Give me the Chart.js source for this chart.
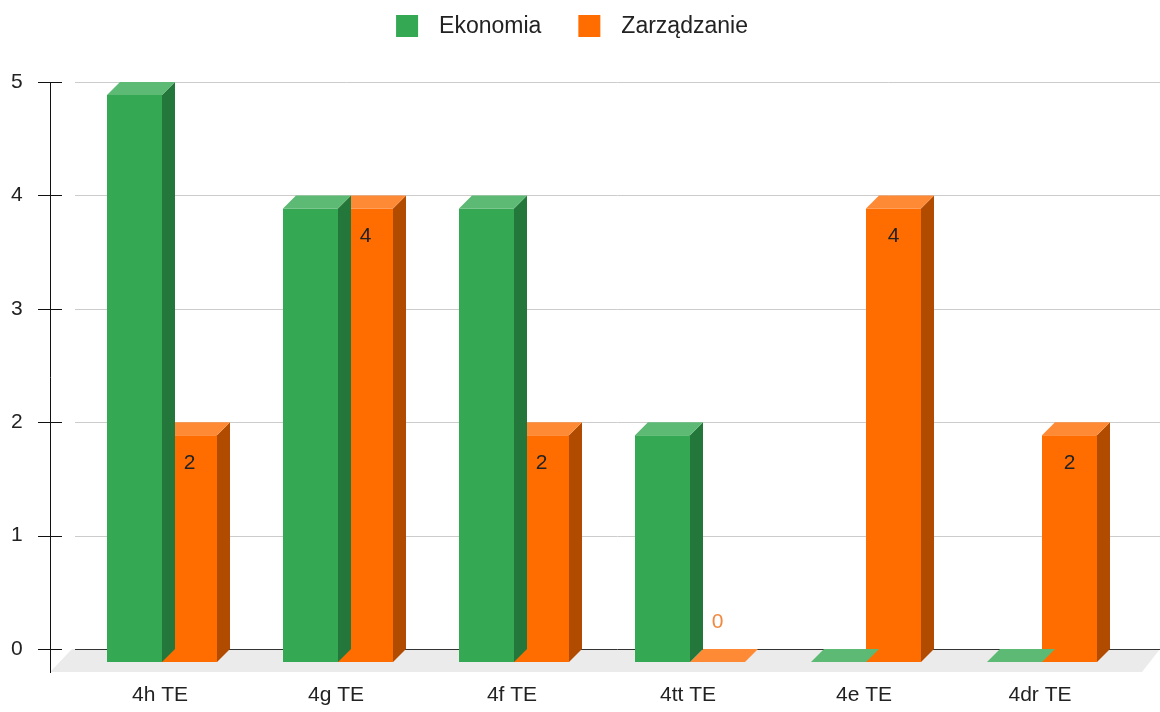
<!DOCTYPE html>
<html><head><meta charset="utf-8">
<script src="https://cdn.jsdelivr.net/npm/chart.js@4.4.1/dist/chart.umd.min.js"></script>
<style>html,body{margin:0;padding:0;background:#fff}#wrap{width:1160px;height:712px}</style>
</head><body><div id="wrap"><canvas id="c" width="1160" height="712"></canvas></div>
<script>
const categories = ['4h TE', '4g TE', '4f TE', '4tt TE', '4e TE', '4dr TE'];
const ekonomia = [5, 4, 4, 2, 0, 0];
const zarzadzanie = [2, 4, 2, 0, 4, 2];
const seriesNames = ['Ekonomia', 'Zarządzanie'];
const yTicks = [0, 1, 2, 3, 4, 5];

const FONT = '"Liberation Sans", Arial, sans-serif';
const D = 13;
const faceColors = [
  {front: '#34a853', side: '#23773a', top: '#5cba74'},
  {front: '#ff6d01', side: '#b04b00', top: '#ff8a36'}
];

const threeD = {
  id: 'threeD',
  beforeDatasetsDraw(chart) {
    const {ctx, chartArea: a, scales: {y}} = chart;
    const y0 = y.getPixelForValue(0);
    const gl = a.left - 12, gr = chart.width, axisX = a.left - 37;
    ctx.save();
    ctx.fillStyle = '#ebebeb';
    ctx.beginPath();
    ctx.moveTo(gl - 3, y0); ctx.lineTo(gr, y0); ctx.lineTo(gr - 18, y0 + 23); ctx.lineTo(axisX, y0 + 23);
    ctx.closePath(); ctx.fill();
    ctx.lineWidth = 1;
    yTicks.forEach(t => {
      const py = Math.round(y.getPixelForValue(t)) + 0.5;
      ctx.strokeStyle = t === 0 ? '#333' : '#cccccc';
      ctx.beginPath(); ctx.moveTo(gl, py); ctx.lineTo(gr, py); ctx.stroke();
      ctx.strokeStyle = '#111';
      ctx.beginPath(); ctx.moveTo(axisX - 12, py); ctx.lineTo(axisX + 12, py); ctx.stroke();
    });
    ctx.strokeStyle = '#111';
    ctx.beginPath();
    ctx.moveTo(axisX + 0.5, Math.round(y.getPixelForValue(yTicks[yTicks.length - 1])));
    ctx.lineTo(axisX + 0.5, y0 + 24);
    ctx.stroke();
    ctx.restore();
  },
  beforeDatasetDraw(chart) {
    chart.ctx.save();
    chart.ctx.translate(-D, D);
  },
  afterDatasetDraw(chart, args) {
    const ctx = chart.ctx;
    const c = faceColors[args.index];
    args.meta.data.forEach(el => {
      const {x, y, base, width} = el.getProps(['x', 'y', 'base', 'width'], true);
      const l = x - width / 2, r = x + width / 2;
      ctx.fillStyle = c.side;
      ctx.beginPath();
      ctx.moveTo(r, y); ctx.lineTo(r + D, y - D); ctx.lineTo(r + D, base - D); ctx.lineTo(r, base);
      ctx.closePath(); ctx.fill();
      ctx.fillStyle = c.top;
      ctx.beginPath();
      ctx.moveTo(l, y); ctx.lineTo(l + D, y - D); ctx.lineTo(r + D, y - D); ctx.lineTo(r, y);
      ctx.closePath(); ctx.fill();
    });
    ctx.restore();
  },
  afterDatasetsDraw(chart) {
    const ctx = chart.ctx;
    const meta = chart.getDatasetMeta(1);
    const vals = chart.data.datasets[1].data;
    ctx.save();
    ctx.font = '21px ' + FONT;
    ctx.textAlign = 'center';
    ctx.textBaseline = 'middle';
    meta.data.forEach((el, i) => {
      const fx = el.x - D, fy = el.y + D;
      if (vals[i] > 0) {
        ctx.fillStyle = '#222';
        ctx.fillText(String(vals[i]), fx, fy + 28);
      } else {
        ctx.fillStyle = '#f08a40';
        ctx.fillText(String(vals[i]), fx, fy - 40);
      }
    });
    ctx.restore();
  },
  afterDraw(chart) {
    const ctx = chart.ctx;
    ctx.save();
    ctx.font = '23px ' + FONT;
    ctx.textBaseline = 'middle';
    const box = 22, gapT = 21, gapI = 37, cy = 26;
    const ws = seriesNames.map(s => ctx.measureText(s).width);
    let total = 0;
    ws.forEach((w, i) => { total += box + gapT + w + (i ? gapI : 0); });
    let x = chart.width / 2 - 8 - total / 2;
    seriesNames.forEach((s, i) => {
      ctx.fillStyle = faceColors[i].front;
      ctx.fillRect(x, cy - box / 2, box, box);
      ctx.fillStyle = '#222';
      ctx.fillText(s, x + box + gapT, cy + 1);
      x += box + gapT + ws[i] + gapI;
    });
    ctx.restore();
  }
};

new Chart(document.getElementById('c'), {
  type: 'bar',
  data: {
    labels: categories,
    datasets: [
      {label: seriesNames[0], data: ekonomia, backgroundColor: faceColors[0].front, clip: false},
      {label: seriesNames[1], data: zarzadzanie, backgroundColor: faceColors[1].front, clip: false}
    ]
  },
  options: {
    responsive: false,
    animation: false,
    events: [],
    categoryPercentage: 0.625,
    barPercentage: 1,
    layout: {padding: {top: 82, right: 17, left: 11, bottom: 0}},
    plugins: {legend: {display: false}, tooltip: {enabled: false}},
    scales: {
      x: {
        grid: {display: false, drawTicks: false},
        border: {display: false},
        ticks: {font: {size: 21, family: FONT}, color: '#222', padding: 34, labelOffset: -15, maxRotation: 0},
        afterFit(s) { s.height = 63; }
      },
      y: {
        min: 0, max: 5,
        grid: {display: false, drawTicks: false},
        border: {display: false},
        ticks: {stepSize: 1, font: {size: 21, family: FONT}, color: '#222', padding: 0, crossAlign: 'far'},
        afterFit(s) { s.width = 76; }
      }
    }
  },
  plugins: [threeD]
});
</script>
</body></html>
